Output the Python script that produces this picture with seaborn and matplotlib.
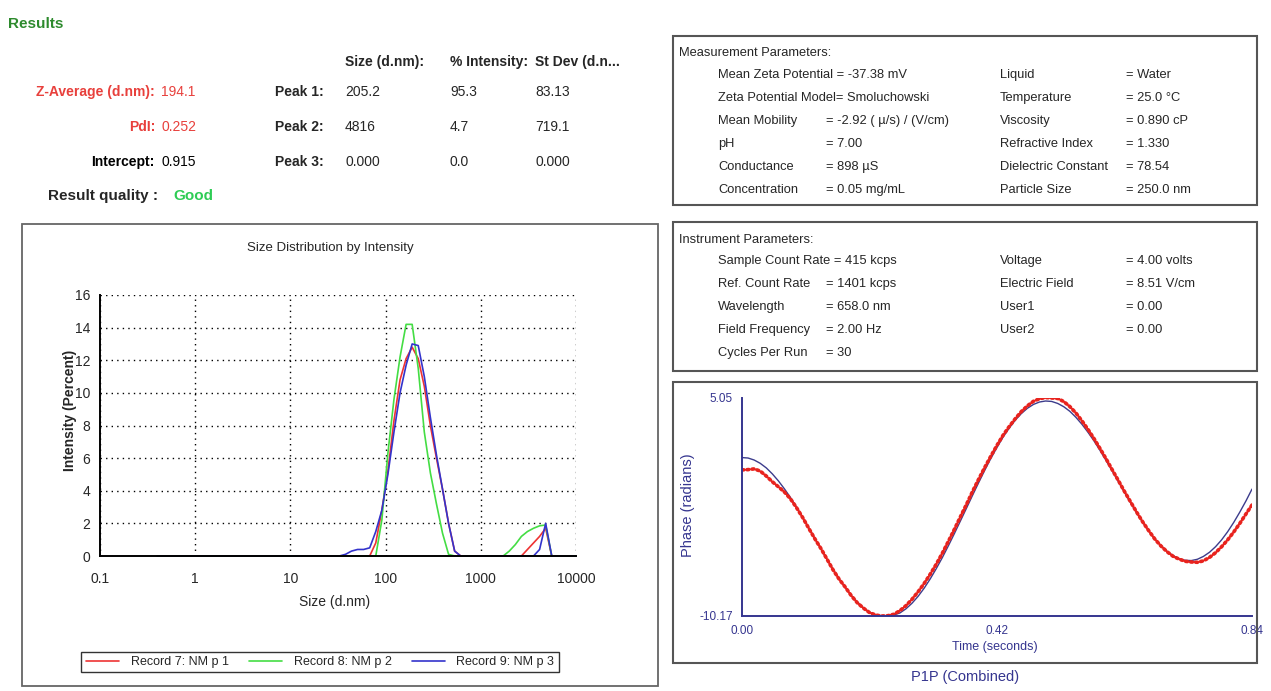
import pandas as pd
import matplotlib
matplotlib.use("Agg")
import matplotlib.pyplot as plt
from matplotlib.patches import Rectangle
from matplotlib.ticker import FixedLocator, MultipleLocator, LogLocator, NullFormatter
import seaborn as sns

# size bins (d.nm)
sizes = [0.4, 0.4632, 0.5365, 0.6213, 0.7195, 0.8332, 0.9649, 1.117, 1.294, 1.499,
         1.736, 2.01, 2.328, 2.696, 3.122, 3.615, 4.187, 4.849, 5.615, 6.503,
         7.531, 8.721, 10.1, 11.7, 13.54, 15.69, 18.17, 21.04, 24.36, 28.21,
         32.67, 37.84, 43.82, 50.75, 58.77, 68.06, 78.82, 91.28, 105.7, 122.4,
         141.8, 164.2, 190.1, 220.2, 255.0, 295.3, 342.0, 396.1, 458.7, 531.2,
         615.1, 712.4, 825.0, 955.4, 1106, 1281, 1484, 1718, 1990, 2305,
         2669, 3091, 3580, 4145, 4801, 5560, 6439, 7456, 8635, 10000]

rec7 = [0, 0, 0, 0, 0, 0, 0, 0, 0, 0,
        0, 0, 0, 0, 0, 0, 0, 0, 0, 0,
        0, 0, 0, 0, 0, 0, 0, 0, 0, 0,
        0, 0, 0, 0, 0, 0, 0.8, 2.8, 5.2, 8.3,
        10.8, 12.1, 12.8, 12.1, 10.4, 8.0, 6.0, 4.1, 2.0, 0.3,
        0, 0, 0, 0, 0, 0, 0, 0, 0, 0,
        0, 0.4, 0.8, 1.2, 1.7, 0, 0, 0, 0, 0]
rec8 = [0, 0, 0, 0, 0, 0, 0, 0, 0, 0,
        0, 0, 0, 0, 0, 0, 0, 0, 0, 0,
        0, 0, 0, 0, 0, 0, 0, 0, 0, 0,
        0, 0, 0, 0, 0, 0, 0, 2.2, 6.3, 9.6,
        12.2, 14.2, 14.2, 11.5, 7.6, 5.1, 3.2, 1.4, 0.1, 0,
        0, 0, 0, 0, 0, 0, 0, 0, 0.3, 0.7,
        1.2, 1.5, 1.7, 1.85, 1.9, 0, 0, 0, 0, 0]
rec9 = [0, 0, 0, 0, 0, 0, 0, 0, 0, 0,
        0, 0, 0, 0, 0, 0, 0, 0, 0, 0,
        0, 0, 0, 0, 0, 0, 0, 0, 0, 0,
        0, 0.1, 0.3, 0.4, 0.4, 0.5, 1.5, 2.8, 5.0, 7.6,
        10.0, 11.7, 13.0, 12.9, 11.0, 8.5, 6.2, 4.1, 2.0, 0.3,
        0, 0, 0, 0, 0, 0, 0, 0, 0, 0,
        0, 0, 0, 0.4, 2.0, 0, 0, 0, 0, 0]
records = ["Record 7: NM p 1", "Record 8: NM p 2", "Record 9: NM p 3"]

# phase plot (seconds / radians)
time_s = [0.00, 0.01, 0.02, 0.03, 0.04, 0.05, 0.06, 0.07, 0.08, 0.09,
          0.10, 0.11, 0.12, 0.13, 0.14, 0.15, 0.16, 0.17, 0.18, 0.19,
          0.20, 0.21, 0.22, 0.23, 0.24, 0.25, 0.26, 0.27, 0.28, 0.29,
          0.30, 0.31, 0.32, 0.33, 0.34, 0.35, 0.36, 0.37, 0.38, 0.39,
          0.40, 0.41, 0.42, 0.43, 0.44, 0.45, 0.46, 0.47, 0.48, 0.49,
          0.50, 0.51, 0.52, 0.53, 0.54, 0.55, 0.56, 0.57, 0.58, 0.59,
          0.60, 0.61, 0.62, 0.63, 0.64, 0.65, 0.66, 0.67, 0.68, 0.69,
          0.70, 0.71, 0.72, 0.73, 0.74, 0.75, 0.76, 0.77, 0.78, 0.79,
          0.80, 0.81, 0.82, 0.83, 0.84]
phase_fit = [0.89, 0.86, 0.72, 0.49, 0.17, -0.25, -0.74, -1.30, -1.91, -2.58,
             -3.29, -4.01, -4.75, -5.49, -6.22, -6.91, -7.58, -8.18, -8.74, -9.20,
             -9.60, -9.90, -10.10, -10.15, -10.17, -10.10, -9.96, -9.67, -9.28, -8.80,
             -8.23, -7.58, -6.86, -6.09, -5.26, -4.40, -3.51, -2.62, -1.72, -0.84,
             0.02, 0.84, 1.60, 2.32, 2.94, 3.50, 3.96, 4.33, 4.60, 4.77,
             4.84, 4.81, 4.67, 4.44, 4.12, 3.70, 3.21, 2.65, 2.04, 1.37,
             0.66, -0.06, -0.80, -1.54, -2.27, -2.96, -3.63, -4.23, -4.79, -5.25,
             -5.65, -5.95, -6.17, -6.28, -6.30, -6.21, -6.01, -5.72, -5.33, -4.85,
             -4.28, -3.63, -2.91, -2.14, -1.31]
phase_data = [0.03, 0.05, 0.10, -0.05, -0.40, -0.80, -1.15, -1.52, -2.00, -2.62,
              -3.30, -4.05, -4.78, -5.46, -6.20, -6.95, -7.60, -8.15, -8.75, -9.25,
              -9.62, -9.93, -10.10, -10.17, -10.15, -10.05, -9.80, -9.45, -9.00, -8.48,
              -7.90, -7.25, -6.55, -5.78, -4.95, -4.10, -3.22, -2.35, -1.45, -0.60,
              0.22, 1.00, 1.75, 2.45, 3.05, 3.60, 4.10, 4.50, 4.82, 5.00,
              5.08, 5.05, 5.02, 4.80, 4.45, 4.00, 3.45, 2.85, 2.20, 1.50,
              0.78, 0.02, -0.72, -1.48, -2.20, -2.92, -3.60, -4.22, -4.80, -5.28,
              -5.68, -6.00, -6.20, -6.35, -6.40, -6.42, -6.32, -6.08, -5.75, -5.33,
              -4.85, -4.30, -3.70, -3.05, -2.42]

W, H = 1271, 691


def fx(px):
    return px / W


def fy(py):
    return 1 - py / H


sns.set_style("white")
plt.rcParams['font.family'] = ['Liberation Sans', 'DejaVu Sans']

fig = plt.figure(figsize=(W / 100, H / 100), dpi=100)

# ---------- results text ----------
red_txt = '#e8403c'
fig.text(fx(8), fy(24), "Results", color='#2d8a2d', fontsize=11, fontweight='bold', va='center')
for x, s in [(345, "Size (d.nm):"), (450, "% Intensity:"), (535, "St Dev (d.n...")]:
    fig.text(fx(x), fy(62), s, fontsize=10, fontweight='bold', va='center')

rows_y = [92, 127, 162]
left_lab = [("Z-Average (d.nm):", "194.1", red_txt),
            ("PdI:", "0.252", red_txt),
            ("Intercept:", "0.915", 'black')]
for y, (lab, val, c) in zip(rows_y, left_lab):
    fig.text(fx(155), fy(y), lab, color=c, fontsize=10, fontweight='bold', ha='right', va='center')
    fig.text(fx(161), fy(y), val, color=c, fontsize=10, va='center')

peaks = [("Peak 1:", "205.2", "95.3", "83.13"),
         ("Peak 2:", "4816", "4.7", "719.1"),
         ("Peak 3:", "0.000", "0.0", "0.000")]
for y, (lab, a, b, c) in zip(rows_y, peaks):
    fig.text(fx(275), fy(y), lab, fontsize=10, fontweight='bold', va='center')
    fig.text(fx(345), fy(y), a, fontsize=10, va='center')
    fig.text(fx(450), fy(y), b, fontsize=10, va='center')
    fig.text(fx(535), fy(y), c, fontsize=10, va='center')

fig.text(fx(158), fy(196), "Result quality :", fontsize=11, fontweight='bold', ha='right', va='center')
fig.text(fx(173), fy(196), "Good", color='#2ecc55', fontsize=11, fontweight='bold', va='center')

# ---------- size distribution ----------
fig.add_artist(Rectangle((fx(22), fy(686)), fx(658) - fx(22), (686 - 224) / H,
                         transform=fig.transFigure, fill=False, edgecolor='#666666', lw=1.3))

long = pd.DataFrame({
    'size': sizes * 3,
    'intensity': rec7 + rec8 + rec9,
    'record': [records[0]] * len(sizes) + [records[1]] * len(sizes) + [records[2]] * len(sizes),
})
ax1 = fig.add_axes([fx(100), fy(556), fx(576) - fx(100), (556 - 295) / H])
sns.lineplot(data=long, x='size', y='intensity', hue='record',
             palette=['#ee3333', '#44dd44', '#3333cc'], linewidth=1.2, ax=ax1, clip_on=False)
ax1.set_xscale('log')
ax1.set_xlim(0.1, 10000)
ax1.set_ylim(0, 16)
ax1.xaxis.set_major_locator(FixedLocator([0.1, 1, 10, 100, 1000, 10000]))
ax1.set_xticklabels(['0.1', '1', '10', '100', '1000', '10000'])
ax1.xaxis.set_minor_locator(LogLocator(base=10, subs=[2, 3, 4, 5, 6, 7, 8, 9]))
ax1.xaxis.set_minor_formatter(NullFormatter())
ax1.yaxis.set_major_locator(MultipleLocator(2))
ax1.yaxis.set_minor_locator(MultipleLocator(1))
ax1.tick_params(which='both', direction='inout', color='black', labelsize=10)
ax1.tick_params(which='major', length=7, width=1)
ax1.tick_params(which='minor', length=5, width=1)
ax1.tick_params(axis='x', pad=8)
ax1.grid(True, which='major', linestyle=(0, (1, 3)), color='black', lw=1.0)
for sp in ['top', 'right']:
    ax1.spines[sp].set_visible(False)
for sp in ['left', 'bottom']:
    ax1.spines[sp].set_color('black')
    ax1.spines[sp].set_linewidth(1.4)
ax1.set_xlabel('')
ax1.set_ylabel('')
fig.text(fx(330), fy(248), "Size Distribution by Intensity", fontsize=9.5, ha='center', va='center')
fig.text(fx(70), fy(410), "Intensity (Percent)", fontsize=10, fontweight='bold', rotation=90,
         ha='center', va='center')
fig.text(fx(335), fy(602), "Size (d.nm)", fontsize=10, ha='center', va='center')

handles, labels = ax1.get_legend_handles_labels()
ax1.get_legend().remove()
fig.legend(handles, labels, loc='center', bbox_to_anchor=(fx(320), fy(662)), ncol=3,
           frameon=True, fancybox=False, edgecolor='black', fontsize=9,
           handlelength=2.7, columnspacing=1.6, borderpad=0.35, handletextpad=0.9)

# ---------- parameter boxes ----------
for top, bot in [(36, 205), (222, 371)]:
    fig.add_artist(Rectangle((fx(673), fy(bot)), fx(1257) - fx(673), (bot - top) / H,
                             transform=fig.transFigure, fill=False, edgecolor='#555555', lw=1.5))

meas_rows = [("Mean Zeta Potential = -37.38 mV", "", "Liquid", "= Water"),
             ("Zeta Potential Model= Smoluchowski", "", "Temperature", "= 25.0 \u00b0C"),
             ("Mean Mobility", "= -2.92 ( \u00b5/s) / (V/cm)", "Viscosity", "= 0.890 cP"),
             ("pH", "= 7.00", "Refractive Index", "= 1.330"),
             ("Conductance", "= 898 \u00b5S", "Dielectric Constant", "= 78.54"),
             ("Concentration", "= 0.05 mg/mL", "Particle Size", "= 250.0 nm")]
inst_rows = [("Sample Count Rate = 415 kcps", "", "Voltage", "= 4.00 volts"),
             ("Ref. Count Rate", "= 1401 kcps", "Electric Field", "= 8.51 V/cm"),
             ("Wavelength", "= 658.0 nm", "User1", "= 0.00"),
             ("Field Frequency", "= 2.00 Hz", "User2", "= 0.00"),
             ("Cycles Per Run", "= 30", "", "")]

fs_par = 9.3
fig.text(fx(679), fy(53), "Measurement Parameters:", fontsize=fs_par, va='center')
for i, (a, b, c, d) in enumerate(meas_rows):
    y = 75 + i * 23
    fig.text(fx(718), fy(y), a, fontsize=fs_par, va='center')
    fig.text(fx(826), fy(y), b, fontsize=fs_par, va='center')
    fig.text(fx(1000), fy(y), c, fontsize=fs_par, va='center')
    fig.text(fx(1126), fy(y), d, fontsize=fs_par, va='center')

fig.text(fx(679), fy(240), "Instrument Parameters:", fontsize=fs_par, va='center')
for i, (a, b, c, d) in enumerate(inst_rows):
    y = 261 + i * 23
    fig.text(fx(718), fy(y), a, fontsize=fs_par, va='center')
    fig.text(fx(826), fy(y), b, fontsize=fs_par, va='center')
    fig.text(fx(1000), fy(y), c, fontsize=fs_par, va='center')
    fig.text(fx(1126), fy(y), d, fontsize=fs_par, va='center')

# ---------- phase plot ----------
navy = '#35358f'
fig.add_artist(Rectangle((fx(673), fy(663)), fx(1257) - fx(673), (663 - 382) / H,
                         transform=fig.transFigure, fill=False, edgecolor='#555555', lw=1.5))
ax2 = fig.add_axes([fx(742), fy(616), (1252 - 742) / W, (616 - 398) / H])
sns.lineplot(x=time_s, y=phase_fit, color='#3c3c8c', linewidth=1.0, ax=ax2)
sns.lineplot(x=time_s, y=phase_data, color='#e8231e', linewidth=2.6,
             linestyle=(0, (0.5, 0.9)), dash_capstyle='round', ax=ax2)
ax2.set_xlim(0, 0.84)
ax2.set_ylim(-10.17, 5.05)
ax2.set_xticks([0, 0.42, 0.84])
ax2.set_xticklabels(['0.00', '0.42', '0.84'])
ax2.set_yticks([-10.17, 5.05])
ax2.set_yticklabels(['-10.17', '5.05'])
ax2.tick_params(direction='out', length=3, color=navy, labelcolor=navy, labelsize=8.5)
for sp in ['top', 'right']:
    ax2.spines[sp].set_visible(False)
for sp in ['left', 'bottom']:
    ax2.spines[sp].set_color(navy)
    ax2.spines[sp].set_linewidth(1.4)
fig.text(fx(688), fy(505), "Phase (radians)", color=navy, fontsize=10.5, rotation=90,
         ha='center', va='center')
fig.text(fx(995), fy(647), "Time (seconds)", color=navy, fontsize=9, ha='center', va='center')
fig.text(fx(965), fy(677), "P1P (Combined)", color=navy, fontsize=10.5, ha='center', va='center')

fig.savefig("out.png", dpi=100)
